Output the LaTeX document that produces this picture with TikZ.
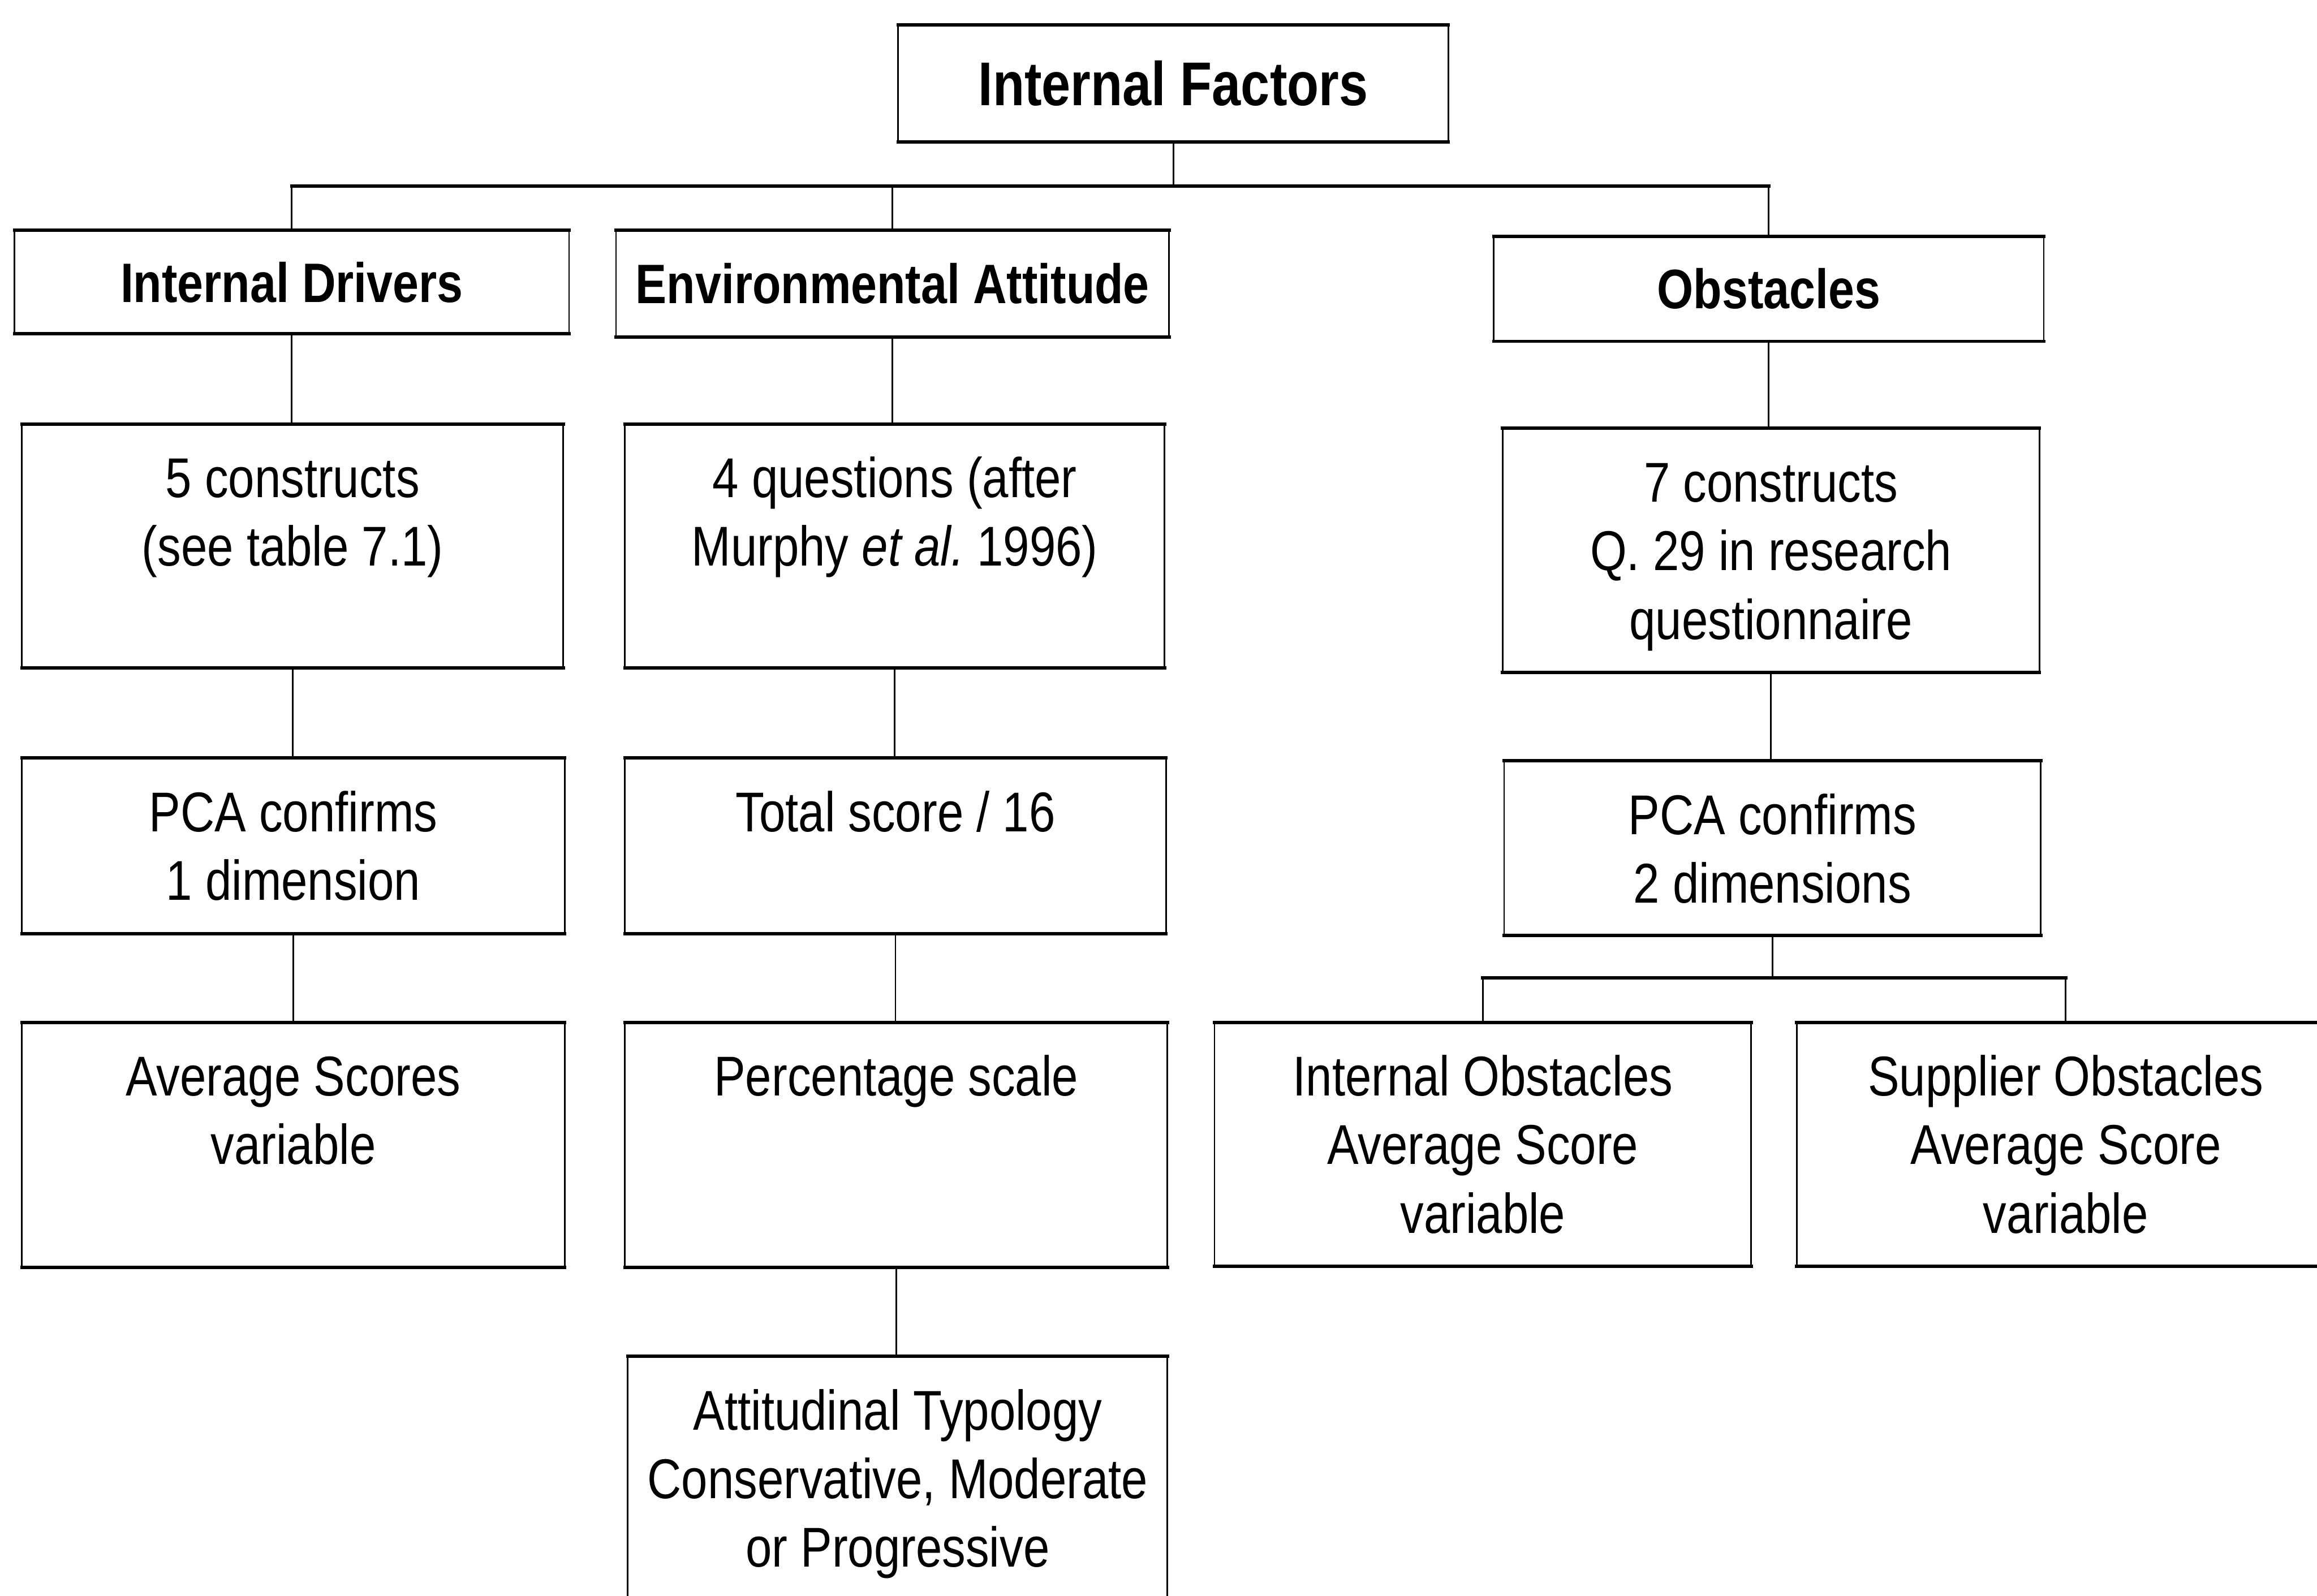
\documentclass[tikz,border=0pt]{standalone}
\usepackage{fontspec}
\setmainfont{Liberation Sans}[FakeStretch=0.84]
\begin{document}
\begin{tikzpicture}[x=0.01cm, y=-0.01cm,
  box/.style={draw, line width=0.32pt, inner sep=0pt, outer sep=0pt},
  bodytext/.style={anchor=north, align=center, inner sep=0pt,
    font=\fontsize{10.8}{13.2}\selectfont},
  headtext/.style={font=\fontsize{10.7}{13}\selectfont\bfseries},
  titletext/.style={font=\fontsize{11.9}{14}\selectfont\bfseries},
  thin/.style={line width=0.32pt},
  bar/.style={line width=0.65pt, line cap=rect}]
\useasboundingbox (0,0) rectangle (1568,1080.3);

% title and the three headings
\node[box, titletext, minimum width=3.72cm, minimum height=0.79cm] (top) at (794,56.5) {Internal Factors};
\node[box, headtext, minimum width=3.75cm, minimum height=0.70cm] (drv) at (197.5,191) {Internal Drivers};
\node[box, headtext, minimum width=3.74cm, minimum height=0.72cm] (env) at (604,192) {Environmental Attitude};
\node[box, headtext, minimum width=3.72cm, minimum height=0.71cm] (obs) at (1197,195.5) {Obstacles};

% second row
\node[box, minimum width=3.66cm, minimum height=1.65cm] (c5) at (198,369.5) {};
\node[box, minimum width=3.65cm, minimum height=1.65cm] (q4) at (605.5,369.5) {};
\node[box, minimum width=3.63cm, minimum height=1.65cm] (c7) at (1198.5,372.5) {};

% third row
\node[box, minimum width=3.67cm, minimum height=1.19cm] (pca1) at (198.5,572.5) {};
\node[box, minimum width=3.66cm, minimum height=1.19cm] (tot) at (606,572.5) {};
\node[box, minimum width=3.63cm, minimum height=1.18cm] (pca2) at (1199.5,574) {};

% fourth row
\node[box, minimum width=3.67cm, minimum height=1.66cm] (avg) at (198.5,775) {};
\node[box, minimum width=3.67cm, minimum height=1.66cm] (pct) at (606.5,775) {};
\node[box, minimum width=3.63cm, minimum height=1.65cm] (iob) at (1003.5,774.5) {};
\node[box, minimum width=3.64cm, minimum height=1.65cm] (sob) at (1398,774.5) {};

% fifth row
\node[box, minimum width=3.65cm, minimum height=1.67cm] (typ) at (607.5,1001.5) {};

% heavier top and bottom edges
\foreach \n in {top,drv,env,obs,c5,q4,c7,pca1,tot,pca2,avg,pct,iob,sob,typ}
  \draw[bar] (\n.north west) -- (\n.north east) (\n.south west) -- (\n.south east);

% box texts
\node[bodytext] (c5t) at ([yshift=-0.166cm]c5.north) {\strut 5 constructs\\(see table 7.1)};
\node[bodytext] (q4t) at ([yshift=-0.166cm]q4.north) {\strut 4 questions (after\\Murphy {\itshape et al.}\ 1996)};
\node[bodytext] (c7t) at ([yshift=-0.166cm]c7.north) {\strut 7 constructs\\Q. 29 in research\\questionnaire};
\node[bodytext] (pca1t) at ([yshift=-0.166cm]pca1.north) {\strut PCA confirms\\1 dimension};
\node[bodytext] (tott) at ([yshift=-0.166cm]tot.north) {\strut Total score / 16};
\node[bodytext] (pca2t) at ([yshift=-0.166cm]pca2.north) {\strut PCA confirms\\2 dimensions};
\node[bodytext] (avgt) at ([yshift=-0.166cm]avg.north) {\strut Average Scores\\variable};
\node[bodytext] (pctt) at ([yshift=-0.166cm]pct.north) {\strut Percentage scale};
\node[bodytext] (iobt) at ([yshift=-0.166cm]iob.north) {\strut Internal Obstacles\\Average Score\\variable};
\node[bodytext] (sobt) at ([yshift=-0.166cm]sob.north) {\strut Supplier Obstacles\\Average Score\\variable};
\node[bodytext] (typt) at ([yshift=-0.166cm]typ.north) {\strut Attitudinal Typology\\Conservative, Moderate\\or Progressive};

% connectors
\coordinate (bus1) at (0,126);
\coordinate (bus2) at (0,662);
\draw[thin] (top.south) -- (top.south |- bus1);
\draw[bar] (drv.north |- bus1) -- (obs.north |- bus1);
\foreach \n in {drv,env,obs}
  \draw[thin] (\n.north |- bus1) -- (\n.north);

\draw[thin] (drv.south) -- (drv.south |- c5.north);
\draw[thin] (c5.south) -- (c5.south |- pca1.north);
\draw[thin] (pca1.south) -- (pca1.south |- avg.north);

\draw[thin] (env.south) -- (env.south |- q4.north);
\draw[thin] (q4.south) -- (q4.south |- tot.north);
\draw[thin] (tot.south) -- (tot.south |- pct.north);
\draw[thin] (pct.south) -- (pct.south |- typ.north);

\draw[thin] (obs.south) -- (obs.south |- c7.north);
\draw[thin] (c7.south) -- (c7.south |- pca2.north);
\draw[thin] (pca2.south) -- (pca2.south |- bus2);
\draw[bar] (iob.north |- bus2) -- (sob.north |- bus2);
\foreach \n in {iob,sob}
  \draw[thin] (\n.north |- bus2) -- (\n.north);
\end{tikzpicture}
\end{document}
